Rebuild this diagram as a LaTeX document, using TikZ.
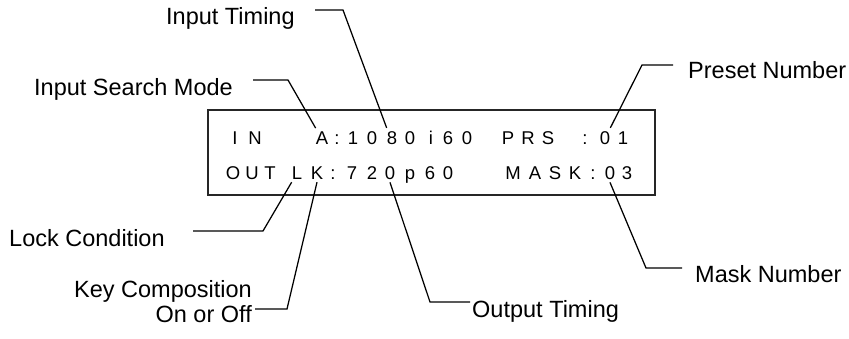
\documentclass[tikz,border=0pt]{standalone}
\usepackage{fontspec}
\setmainfont{Liberation Sans}
\begin{document}
\begin{tikzpicture}[x=1pt, y=-1pt,
    lcd/.style={anchor=base, inner xsep=0pt, inner ysep=3pt, text=black,
                font=\fontsize{18.5}{20}\selectfont},
    tag/.style={inner sep=0pt, font=\fontsize{23.5}{25}\selectfont},
    leader/.style={line width=1.25pt, line join=miter}]
    \useasboundingbox (0,0) rectangle (849,338);

    % LCD panel
    \draw[line width=1.7pt, black!85] (208,110) rectangle (655,195);
    % top row
    \foreach \x/\ch [count=\i] in {235/I,255/N,322/A,337/:,353/1,372/0,392/8,410/0,
        431/i,448/6,467/0,508/P,528/R,548/S,585/:,605/0,623/1} {
        \node[lcd] (in\i) at (\x,144) {\ch};
    }
    % bottom row
    \foreach \x/\ch [count=\i] in {233/O,252/U,270/T,297/L,317/K,333/:,352/7,372/2,
        390/0,410/p,430/6,448/0,513/M,535/A,555/S,575/K,593/:,610/0,627/3} {
        \node[lcd] (out\i) at (\x,179) {\ch};
    }

    % Labels
    \node[tag, anchor=base west] (timing) at (166,24) {Input Timing};
    \node[tag, anchor=base west] (search) at (34,95) {Input Search Mode};
    \node[tag, anchor=base west] (preset) at (688,78) {Preset Number};
    \node[tag, anchor=base west] (lock) at (9,246) {Lock Condition};
    \node[tag, anchor=east, align=right] (keycomp) at (252,302) {Key Composition\\On or Off};
    \node[tag, anchor=base west] (outtiming) at (472,317) {Output Timing};
    \node[tag, anchor=base west] (mask) at (695,282) {Mask Number};

    % leader lines: free end, bend, then onto the character
    \coordinate (timingend) at (315,10);   \coordinate (timingbend) at (343,10);
    \coordinate (searchend) at (253,80);   \coordinate (searchbend) at (288,80);
    \coordinate (presetend) at (673,65);   \coordinate (presetbend) at (642,65);
    \coordinate (lockend) at (193,231);    \coordinate (lockbend) at (263,231);
    \coordinate (keyend) at (255,309);     \coordinate (keybend) at (287,309);
    \coordinate (outend) at (470,302);     \coordinate (outbend) at (430,302);
    \coordinate (maskend) at (682,268);    \coordinate (maskbend) at (646,268);

    \draw[leader] (timingend) -- (timingbend) -- (in7.north west);
    \draw[leader] (searchend) -- (searchbend) -- (in3.north west);
    \draw[leader] (presetend) -- (presetbend) -- (in16.north east);
    \draw[leader] (lockend) -- (lockbend) -- (out4.south west);
    \draw[leader] (keyend) -- (keybend) -- (out5.south);
    \draw[leader] (outend) -- (outbend) -- (out9.south);
    \draw[leader] (maskend) -- (maskbend) -- (out18.south);
\end{tikzpicture}
\end{document}
